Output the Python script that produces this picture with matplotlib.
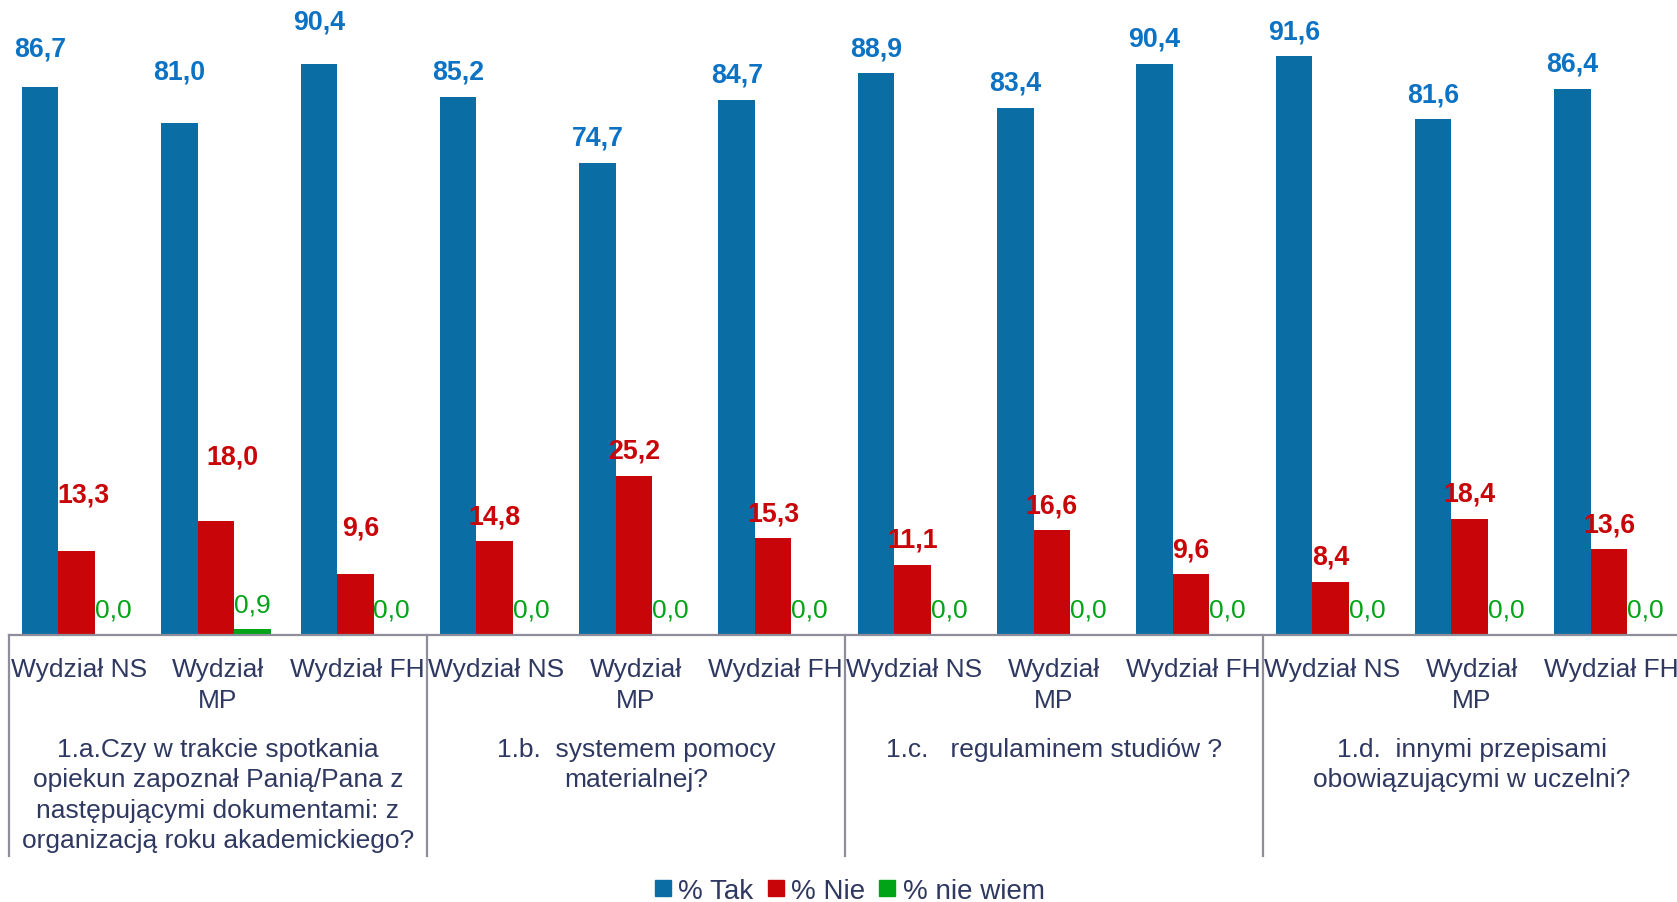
import matplotlib
matplotlib.use("Agg")
import matplotlib.pyplot as plt
from matplotlib.lines import Line2D
from matplotlib.transforms import blended_transform_factory

plt.rcParams['font.family'] = ['Liberation Sans', 'DejaVu Sans']

categories = ["Wydział NS", "Wydział\nMP", "Wydział FH"] * 4
groups = [
    "1.a.Czy w trakcie spotkania\nopiekun zapoznał Panią/Pana z\nnastępującymi dokumentami: z\norganizacją roku akademickiego?",
    "1.b.  systemem pomocy\nmaterialnej?",
    "1.c.   regulaminem studiów ?",
    "1.d.  innymi przepisami\nobowiązującymi w uczelni?",
]
tak = [86.7, 81.0, 90.4, 85.2, 74.7, 84.7, 88.9, 83.4, 90.4, 91.6, 81.6, 86.4]
nie = [13.3, 18.0, 9.6, 14.8, 25.2, 15.3, 11.1, 16.6, 9.6, 8.4, 18.4, 13.6]
nie_wiem = [0.0, 0.9, 0.0, 0.0, 0.0, 0.0, 0.0, 0.0, 0.0, 0.0, 0.0, 0.0]
series_names = ["% Tak", "% Nie", "% nie wiem"]

c_blue = "#0A6EA4"
c_blue_lbl = "#0C72C4"
c_red = "#C80508"
c_green = "#00A416"
c_text = "#2E3860"
c_line = "#8E8E9A"

# label placement (pixels above bar top / horizontal shift), styling only
PX = 72 / 100
lift_default = 25
lift_tak = [39, 52, 42] + [lift_default] * 9
lift_nie = [56, 65, 47] + [lift_default] * 9
shift_nie = [7, 16, 5] + [0] * 9
lift_nw = [lift_default] * 12

W, H = 1677, 903
fig = plt.figure(figsize=(W / 100, H / 100), dpi=100)
ax = fig.add_axes([9 / W, 1 - 636 / H, 1671.6 / W, 632 / H])
ax.set_xlim(0, 12)
ax.set_ylim(0, 100)
ax.axis('off')

bw = 0.262
centers = [i + 0.486 for i in range(12)]
offs = [-bw, 0, bw]
series = [tak, nie, nie_wiem]
colors = [c_blue, c_red, c_green]
lbl_colors = [c_blue_lbl, c_red, c_green]
lbl_weight = ['bold', 'bold', 'normal']
lbl_size = [19.3, 19.3, 19]
lifts = [lift_tak, lift_nie, lift_nw]
shifts = [[0] * 12, shift_nie, [0] * 12]

for s, vals in enumerate(series):
    xs = [c + offs[s] for c in centers]
    ax.bar(xs, vals, width=bw, color=colors[s], edgecolor='none', zorder=2)
    for j, (x, v) in enumerate(zip(xs, vals)):
        ax.annotate(f"{v:.1f}".replace('.', ','), (x, v),
                    xytext=(shifts[s][j] * PX, lifts[s][j] * PX),
                    textcoords='offset points', ha='center', va='center',
                    fontsize=lbl_size[s], fontweight=lbl_weight[s], color=lbl_colors[s],
                    annotation_clip=False)

# axis lines
tr = blended_transform_factory(ax.transData, fig.transFigure)
ybase = 1 - 636 / H
ybot = 1 - 857 / H
ax.plot([0, 12], [ybase, ybase], transform=tr, color=c_line, lw=1.6, clip_on=False, zorder=3)
for g in range(4):
    ax.plot([g * 3, g * 3], [ybase, ybot], transform=tr, color=c_line, lw=1.6, clip_on=False)

# category labels
for i, lab in enumerate(categories):
    for k, ln in enumerate(lab.split("\n")):
        ax.text(i + 0.5, 1 - (677 + 31 * k) / H, ln, transform=tr, ha='center', va='baseline',
                fontsize=19, color=c_text, clip_on=False)

# group labels
for g, lab in enumerate(groups):
    for k, ln in enumerate(lab.split("\n")):
        ax.text(g * 3 + 1.5, 1 - (757 + 30.5 * k) / H, ln, transform=tr, ha='center', va='baseline',
                fontsize=19, color=c_text, clip_on=False)

handles = [Line2D([], [], marker='s', linestyle='none', markersize=11, color=c)
           for c in colors]
fig.legend(handles, series_names, loc='center', bbox_to_anchor=(849 / W, 1 - 892 / H),
           ncol=3, frameon=False, fontsize=20, labelcolor=c_text, handletextpad=0.2,
           columnspacing=0.45, handlelength=0.7, borderaxespad=0, borderpad=0)

fig.savefig("out.png", dpi=100)
